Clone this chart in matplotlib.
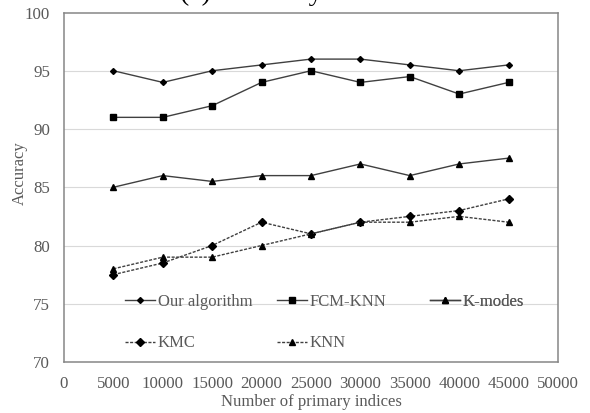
import matplotlib
matplotlib.use("Agg")
import matplotlib.pyplot as plt

plt.rcParams["font.family"] = ["Liberation Serif", "DejaVu Serif"]

x_values = [5000, 10000, 15000, 20000, 25000, 30000, 35000, 40000, 45000]
our_algorithm = [95, 94, 95, 95.5, 96, 96, 95.5, 95, 95.5]
fcm_knn = [91, 91, 92, 94, 95, 94, 94.5, 93, 94]
k_modes = [85, 86, 85.5, 86, 86, 87, 86, 87, 87.5]
kmc = [77.5, 78.5, 80, 82, 81, 82, 82.5, 83, 84]
knn = [78, 79, 79, 80, 81, 82, 82, 82.5, 82]

x_ticks = list(range(0, 50001, 5000))
y_ticks = [70, 75, 80, 85, 90, 95, 100]

W, H = 590, 413
TEXT = "#595959"
LINE = "#404040"

fig = plt.figure(figsize=(W / 100, H / 100), dpi=100)
ax = fig.add_axes([64 / W, 1 - 362 / H, (558 - 64) / W, (362 - 12.5) / H])

dash = (2.2, 1.1)
l_our, = ax.plot(x_values, our_algorithm, color=LINE, lw=1.0, marker="D", ms=3,
                 mfc="black", mec="black", label="Our algorithm")
l_fcm, = ax.plot(x_values, fcm_knn, color=LINE, lw=1.0, marker="s", ms=5,
                 mfc="black", mec="black", label="FCM-KNN")
l_kmo, = ax.plot(x_values, k_modes, color=LINE, lw=1.0, marker="^", ms=4,
                 mfc="black", mec="black", label="K-modes")
l_kmc, = ax.plot(x_values, kmc, color=LINE, lw=1.0, ls=(0, dash), marker="D", ms=4,
                 mfc="black", mec="black", label="KMC")
l_knn, = ax.plot(x_values, knn, color=LINE, lw=1.0, ls=(0, dash), marker="^", ms=4,
                 mfc="black", mec="black", label="KNN")

ax.set_xlim(0, 50000)
ax.set_ylim(70, 100)
ax.set_xticks(x_ticks)
ax.set_yticks(y_ticks)
ax.tick_params(length=0, labelsize=12.2, labelcolor=TEXT)
ax.tick_params(axis="x", pad=10)
ax.tick_params(axis="y", pad=10)
for y in y_ticks[1:-1]:
    ax.axhline(y, color="#d9d9d9", lw=0.8, zorder=0)
for spine in ax.spines.values():
    spine.set_color("#868686")
    spine.set_linewidth(1.1)

ax.set_xlabel("Number of primary indices", fontsize=12, color=TEXT)
ax.set_ylabel("Accuracy", fontsize=12, color=TEXT)
ax.xaxis.set_label_coords(0.5, (362 - 394) / 349.5)
ax.yaxis.set_label_coords((28 - 64) / 494, (362 - 173) / 349.5)

# legend laid out like the Excel original: three separate columns
leg_kw = dict(frameon=False, fontsize=12, labelcolor=TEXT, borderpad=0,
              handlelength=1.8, handletextpad=0.15, labelspacing=1.55,
              loc="center left", bbox_transform=fig.transFigure)
columns = [([l_our, l_kmc], 117, 322.5), ([l_fcm, l_knn], 269, 322.5), ([l_kmo], 422, 302)]
for handles, px, py in columns:
    leg = ax.legend(handles=handles, bbox_to_anchor=(px / W, 1 - py / H), **leg_kw)
    ax.add_artist(leg)

# title is cut off at the top edge in the original, only descenders show
fig.text(0.425, 1.0, "(a) Accuracy", fontsize=20, color="black", ha="center", va="baseline")

fig.savefig("out.png", dpi=100)
